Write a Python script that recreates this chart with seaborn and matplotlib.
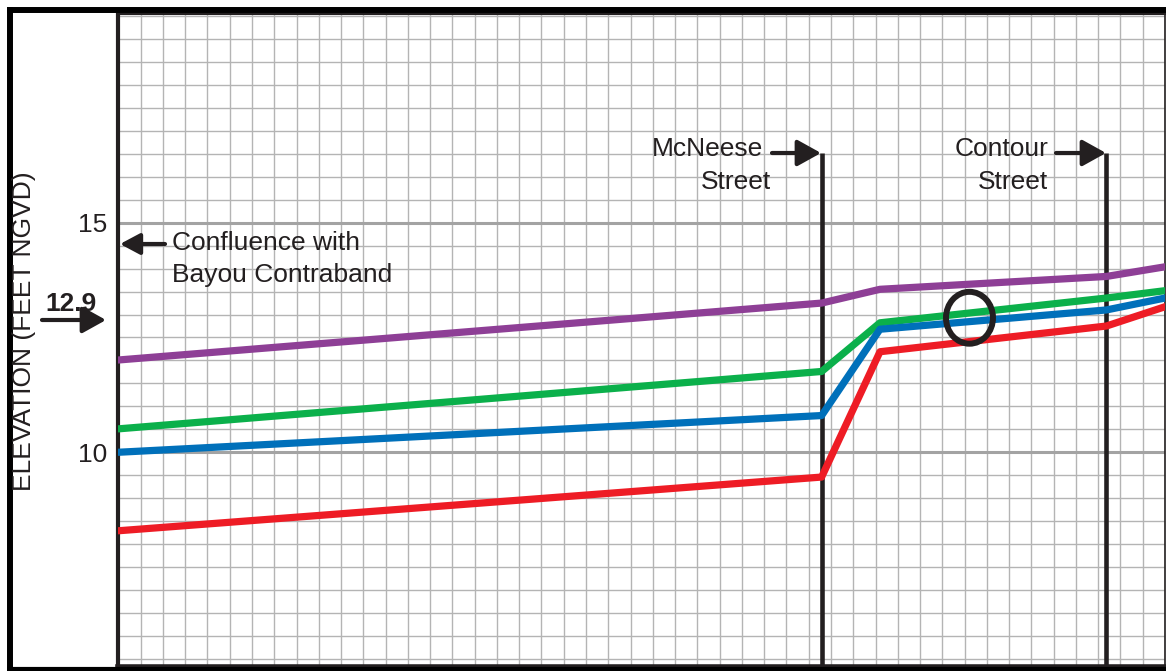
import matplotlib
matplotlib.use("Agg")
import numpy as np
import pandas as pd
import seaborn as sns
import matplotlib.pyplot as plt
from matplotlib.patches import Ellipse
from matplotlib.lines import Line2D

# ---------------- data ----------------
station = [0.0, 31.58, 34.2, 44.37, 47.0]          # distance in grid units
purple_elev = [12.01, 13.25, 13.55, 13.83, 14.04]
green_elev = [10.51, 11.76, 12.82, 13.36, 13.52]
blue_elev = [10.00, 10.80, 12.68, 13.10, 13.36]
red_elev = [8.29, 9.46, 12.19, 12.75, 13.17]
profile_names = ["purple", "green", "blue", "red"]
profile_colors = ["#8E3F96", "#0BB04B", "#0070BA", "#EE1C25"]

ytick_values = [10, 15]
ytick_labels = ["10", "15"]
mcneese_x = 31.58
contour_x = 44.37
street_top = 16.52
marker_x, marker_y = 38.22, 12.93   # 12.9 ft elevation marker
marker_label = "12.9"

W, H = 1166, 671
INK = "#231F20"
FS = 19

sns.set_theme(style="white")
plt.rcParams["font.family"] = ["Liberation Sans", "DejaVu Sans"]

fig = plt.figure(figsize=(W / 100, H / 100), dpi=100)
fig.patch.set_facecolor("white")
ax = fig.add_axes([118.4 / W, (H - 667) / H, (1165 - 118.4) / W, (667 - 14) / H])

frames = []
for name, vals in zip(profile_names, [purple_elev, green_elev, blue_elev, red_elev]):
    frames.append(pd.DataFrame({"station": station, "elevation": vals, "profile": name}))
df = pd.concat(frames, ignore_index=True)

sns.lineplot(data=df, x="station", y="elevation", hue="profile",
             palette=dict(zip(profile_names, profile_colors)),
             hue_order=profile_names, sort=False, estimator=None,
             linewidth=5.2, legend=False, ax=ax, zorder=4)

ylim0 = 10 - (667 - 452.3) / 45.9
ylim1 = 15 + (222.7 - 14) / 45.9
ax.set_xlim(0, 47)
ax.set_ylim(ylim0, ylim1)

# grid
ax.set_xticks([])
ax.set_xticks(np.arange(0, 48, 1), minor=True)
ax.set_yticks(ytick_values)
ax.set_yticklabels(ytick_labels)
ax.set_yticks(np.arange(5.5, 19.6, 0.5), minor=True)
ax.grid(which="minor", color="#b4b4b4", linewidth=1.0)
ax.grid(which="major", axis="y", color="#a3a3a3", linewidth=2.2)
ax.set_axisbelow(True)
ax.tick_params(which="both", length=0, labelsize=FS, labelcolor=INK, pad=8)
ax.tick_params(axis="x", labelbottom=False)
ax.set_xlabel("")
ax.set_ylabel("")

for side, lw in [("left", 3.0), ("bottom", 4.0), ("top", 1.5), ("right", 1.2)]:
    ax.spines[side].set_visible(True)
    ax.spines[side].set_color(INK)
    ax.spines[side].set_linewidth(lw)

# street lines
ax.vlines([mcneese_x, contour_x], ymin=ylim0, ymax=street_top, color=INK,
          linewidth=3.3, zorder=3)

# circle marker
ax.add_patch(Ellipse((marker_x, marker_y), width=2.11, height=1.13, fill=False,
                     edgecolor=INK, linewidth=4.3, zorder=5))

# outer frame
fig.add_artist(Line2D([7 / W, 1], [1 - 10 / H] * 2, transform=fig.transFigure,
                      color="black", linewidth=4.3, solid_capstyle="butt"))
fig.add_artist(Line2D([10 / W] * 2, [0, 1 - 7 / H], transform=fig.transFigure,
                      color="black", linewidth=4.3, solid_capstyle="butt"))
fig.add_artist(Line2D([7 / W, 1], [2.0 / H] * 2, transform=fig.transFigure,
                      color="black", linewidth=3.0, solid_capstyle="butt"))


def px(x, y):
    return (x, H - y)


def arrow(x0, y0, x1, y1, hl=0.72, hw=0.4):
    ax.annotate("", xy=px(x1, y1), xycoords="figure pixels",
                xytext=px(x0, y0), textcoords="figure pixels",
                arrowprops=dict(arrowstyle=f"-|>,head_length={hl},head_width={hw}",
                                color=INK, lw=3.0, shrinkA=0, shrinkB=0,
                                mutation_scale=20),
                annotation_clip=False)


def label(x, y, s, ha="left", weight="normal"):
    fig.text(x / W, 1 - y / H, s, ha=ha, va="baseline", fontsize=FS,
             color=INK, fontweight=weight)


# y axis title
fig.text(24 / W, 1 - 331 / H, "ELEVATION (FEET NGVD)", rotation=90,
         ha="center", va="center", fontsize=FS, color=INK)

label(763, 156, "McNeese", ha="right")
label(771, 189, "Street", ha="right")
arrow(772, 153, 821, 153)

label(1048, 156, "Contour", ha="right")
label(1048, 189, "Street", ha="right")
arrow(1056, 153, 1106, 153)

label(172, 250, "Confluence with")
label(172, 282, "Bayou Contraband")
arrow(165, 244, 120, 244, hl=0.6, hw=0.32)

label(45, 311, marker_label, weight="bold")
arrow(42, 320, 106, 320)

fig.savefig("out.png", dpi=100)
